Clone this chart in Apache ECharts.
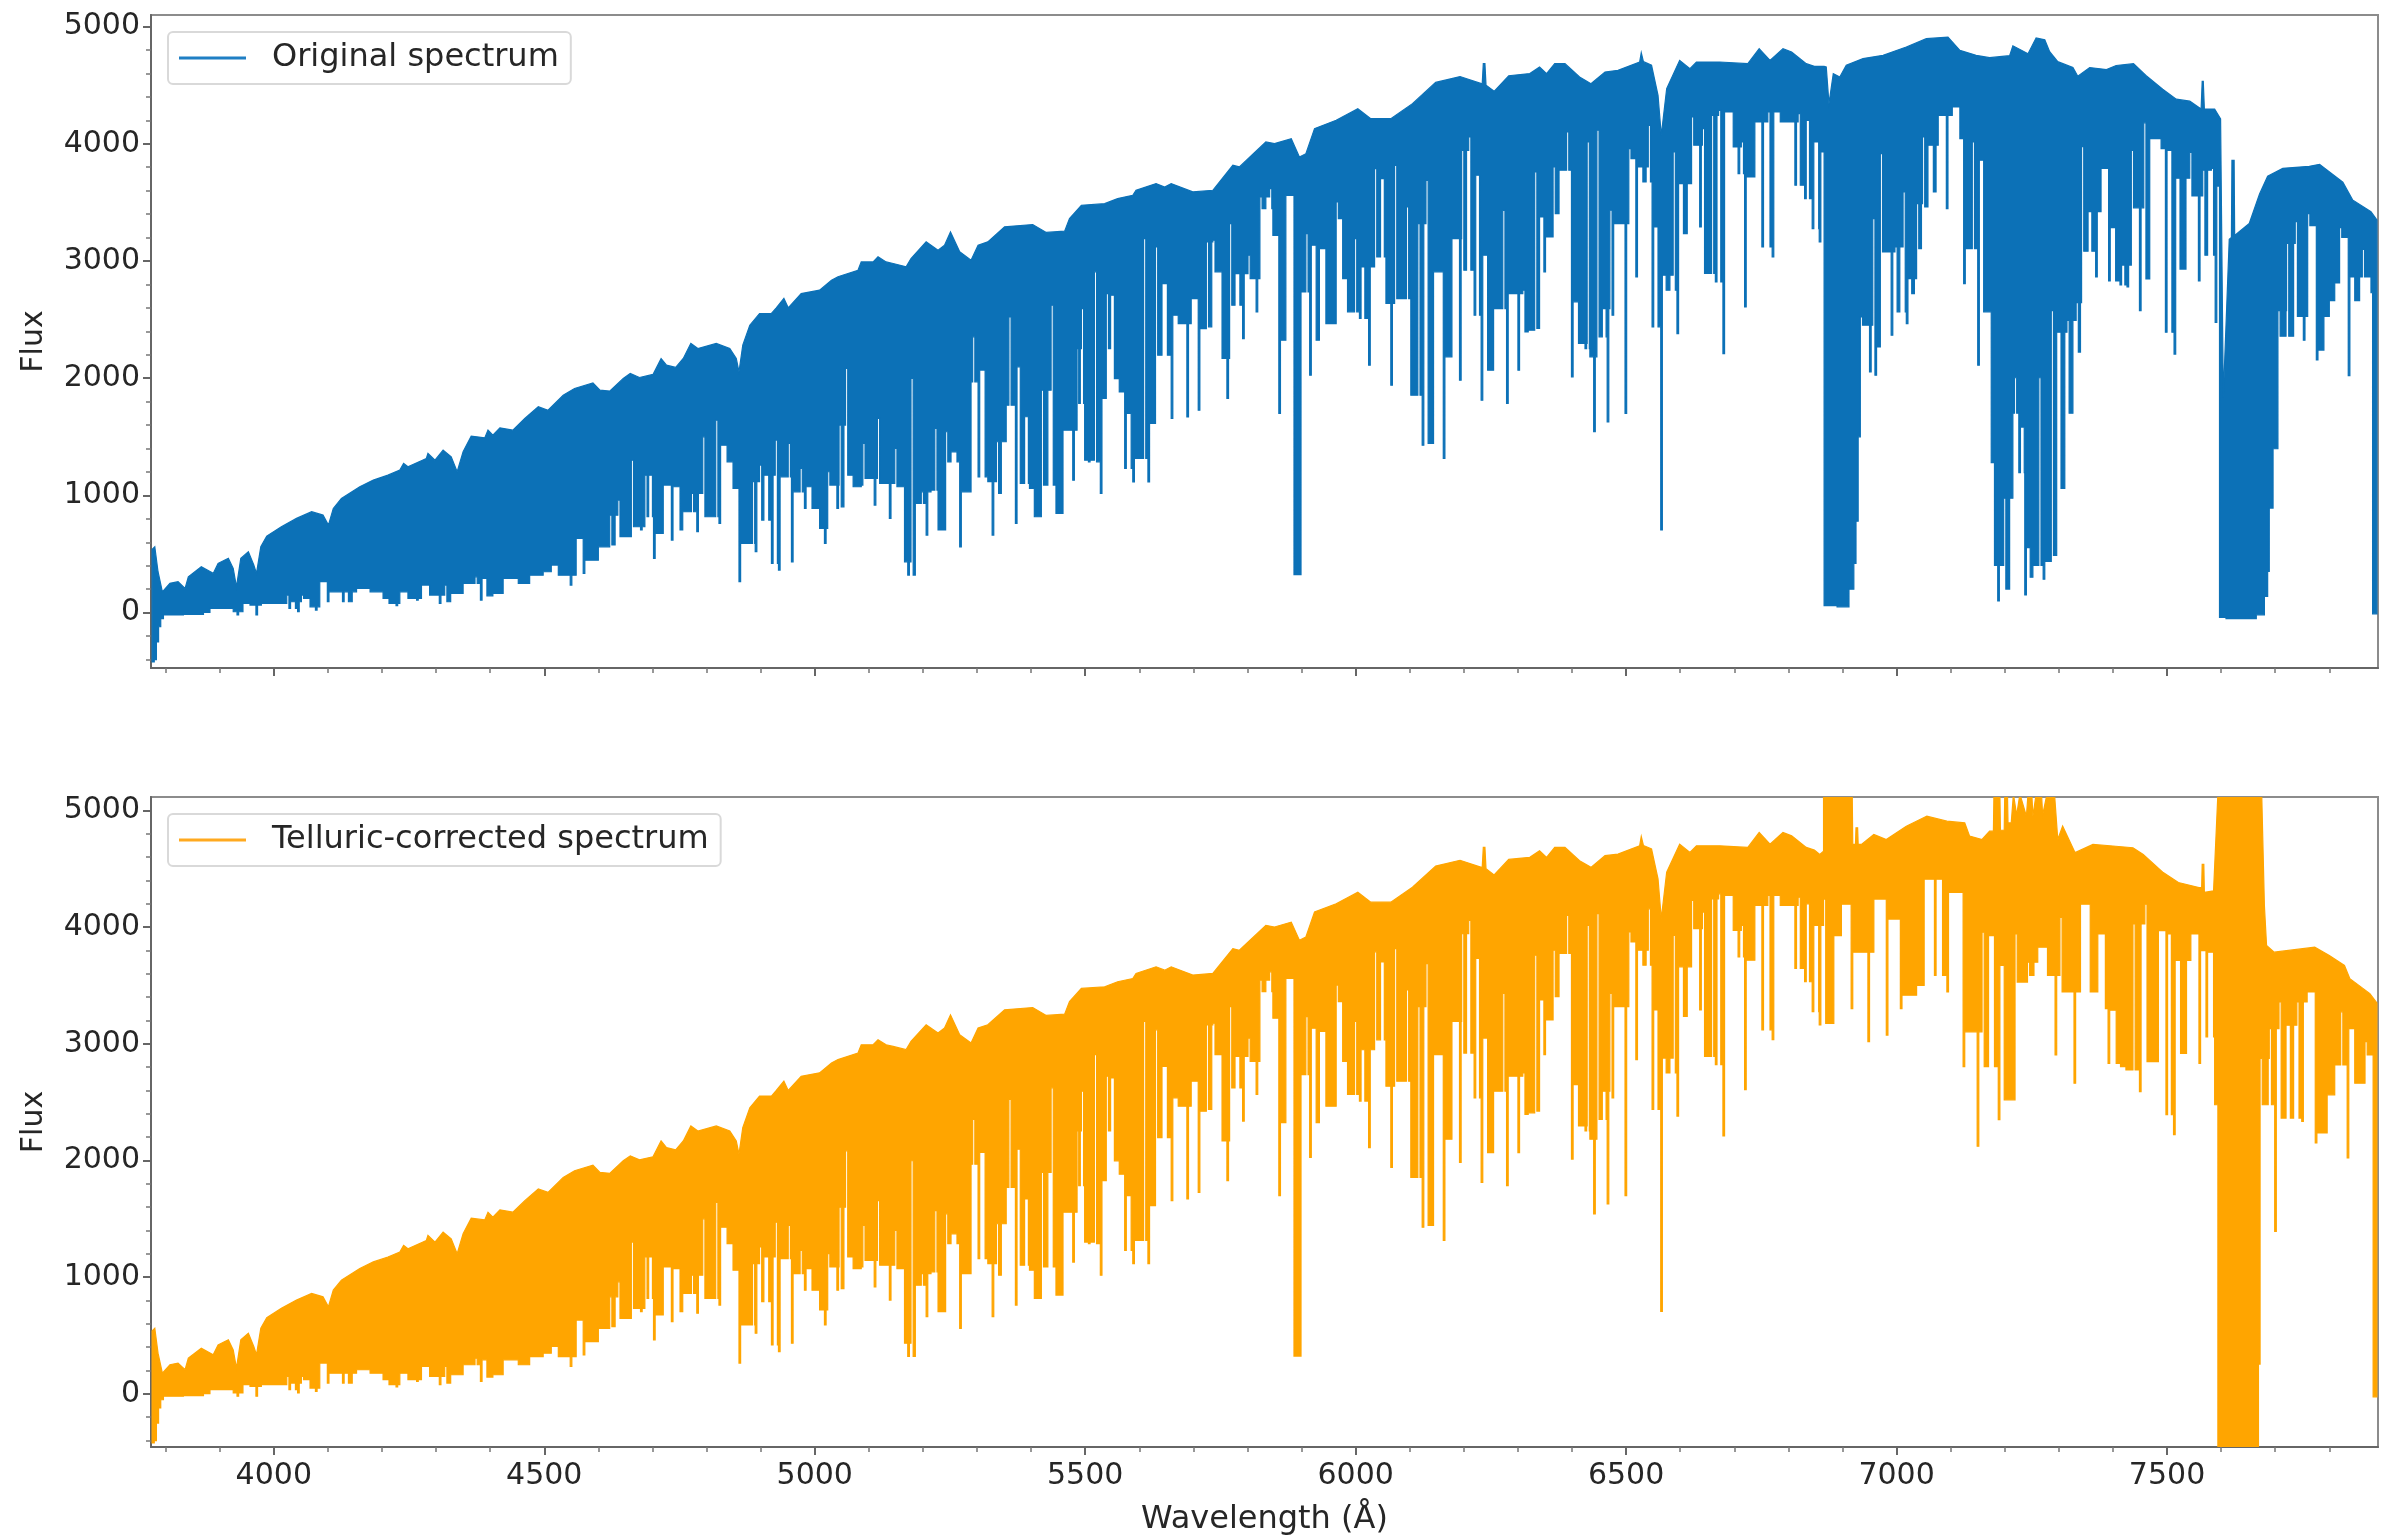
<!DOCTYPE html>
<html>
<head>
<meta charset="utf-8">
<script src="https://cdn.jsdelivr.net/npm/echarts@6/dist/echarts.min.js"></script>
<style>
html,body{margin:0;padding:0;background:#fff}
#chart{width:2388px;height:1537px;filter:blur(0.7px)}
</style>
</head>
<body>
<div id="chart"></div>
<script>
const xMajorTicks=[4000,4500,5000,5500,6000,6500,7000,7500];
const xMinorTicks=[3800,3900,4100,4200,4300,4400,4600,4700,4800,4900,5100,5200,5300,5400,5600,5700,5800,5900,6100,6200,6300,6400,6600,6700,6800,6900,7100,7200,7300,7400,7600,7700,7800];
const yMajorTicks=[0,1000,2000,3000,4000,5000];
const yMinorTicks=[-400,-200,200,400,600,800,1200,1400,1600,1800,2200,2400,2600,2800,3200,3400,3600,3800,4200,4400,4600,4800];

// upper envelope shared by both spectra, [wavelength, flux]
const sharedTop=[[3775,540],[3780,562],[3786,349],[3794,178],[3808,250],[3823,264],[3836,207],[3842,306],[3866,392],[3888,335],[3897,420],[3916,463],[3925,377],[3931,221],[3939,463],[3953,519],[3963,406],[3968,335],[3976,562],[3987,653],[4014,733],[4042,804],[4070,861],[4091,832],[4101,747],[4110,889],[4125,974],[4159,1074],[4184,1131],[4211,1173],[4233,1216],[4240,1273],[4248,1244],[4282,1315],[4285,1358],[4298,1301],[4313,1386],[4328,1329],[4339,1202],[4350,1372],[4365,1506],[4390,1491],[4396,1557],[4405,1514],[4418,1577],[4442,1557],[4464,1656],[4489,1756],[4507,1727],[4535,1855],[4556,1912],[4590,1960],[4603,1898],[4621,1890],[4646,1998],[4659,2040],[4676,2006],[4701,2032],[4716,2168],[4726,2111],[4743,2092],[4757,2168],[4771,2296],[4784,2253],[4818,2296],[4843,2253],[4855,2168],[4860,2055],[4867,2282],[4880,2452],[4898,2552],[4920,2552],[4929,2600],[4943,2680],[4951,2600],[4975,2722],[5009,2751],[5031,2836],[5043,2865],[5080,2921],[5086,2992],[5108,2992],[5117,3035],[5132,2992],[5145,2978],[5169,2950],[5178,3021],[5206,3163],[5228,3092],[5240,3135],[5251,3248],[5268,3078],[5289,3007],[5302,3135],[5320,3163],[5351,3291],[5403,3311],[5428,3243],[5462,3254],[5471,3362],[5493,3475],[5536,3489],[5560,3532],[5588,3560],[5594,3603],[5631,3660],[5647,3631],[5659,3660],[5699,3589],[5736,3603],[5773,3816],[5785,3802],[5834,4015],[5850,4001],[5881,4043],[5896,3887],[5908,3915],[5924,4129],[5964,4200],[6004,4299],[6028,4214],[6065,4214],[6105,4342],[6148,4523],[6193,4573],[6234,4510],[6236,4683],[6239,4683],[6241,4500],[6256,4447],[6283,4580],[6322,4598],[6340,4655],[6353,4598],[6368,4683],[6387,4683],[6414,4569],[6435,4512],[6461,4612],[6485,4626],[6525,4697],[6528,4777],[6532,4700],[6547,4669],[6559,4413],[6565,4072],[6575,4470],[6599,4711],[6618,4640],[6630,4697],[6673,4697],[6725,4683],[6746,4811],[6766,4711],[6790,4811],[6806,4782],[6833,4683],[6848,4660]];

// lower edge of the solid band: each level holds until the next wavelength
const sharedFloor=[[3775,-420],[3779,-400],[3783,-250],[3787,-120],[3791,-50],[3796,-20],[3833,-15],[3870,2],[3882,36],[3925,8],[3932,-20],[3943,79],[3956,65],[3967,-20],[3977,79],[4002,79],[4024,150],[4028,36],[4036,93],[4044,8],[4051,150],[4061,122],[4067,50],[4077,22],[4085,264],[4099,93],[4110,178],[4127,93],[4134,178],[4142,93],[4153,207],[4178,178],[4202,122],[4213,79],[4226,59],[4233,178],[4248,122],[4264,107],[4273,235],[4288,150],[4306,79],[4316,235],[4324,93],[4335,164],[4350,250],[4372,306],[4382,107],[4390,292],[4402,144],[4412,164],[4424,292],[4452,250],[4473,320],[4498,349],[4513,406],[4526,320],[4538,320],[4548,235],[4559,633],[4572,335],[4583,448],[4600,562],[4621,832],[4628,577],[4636,960],[4646,648],[4653,648],[4661,1301],[4667,733],[4678,705],[4686,1173],[4690,818],[4696,1173],[4702,463],[4713,676],[4720,1088],[4735,619],[4747,1074],[4753,705],[4763,861],[4772,1017],[4782,691],[4793,1500],[4803,818],[4817,1642],[4823,761],[4834,1429],[4843,1287],[4849,1060],[4860,264],[4867,591],[4877,591],[4885,1117],[4890,520],[4898,1259],[4903,790],[4911,1173],[4920,420],[4927,1472],[4933,363],[4944,1159],[4951,1444],[4957,434],[4964,1031],[4973,1230],[4981,889],[4991,1074],[4998,889],[5009,719],[5018,591],[5024,1202],[5031,1088],[5041,889],[5045,1600],[5051,903],[5057,2083],[5063,1173],[5071,1074],[5086,1088],[5089,1444],[5098,1145],[5110,918],[5116,1657],[5126,1103],[5138,804],[5148,1401],[5157,1074],[5166,434],[5172,321],[5178,1998],[5183,321],[5191,932],[5197,1031],[5206,662],[5215,1046],[5222,1571],[5228,705],[5242,1543],[5249,1287],[5259,1372],[5268,562],[5277,1031],[5289,1969],[5292,2353],[5302,1159],[5311,2069],[5320,1117],[5328,662],[5336,1458],[5342,1017],[5354,1770],[5359,2523],[5371,761],[5376,2097],[5385,1103],[5391,1671],[5397,1060],[5406,818],[5419,1898],[5428,1088],[5437,2623],[5446,847],[5459,1557],[5477,1130],[5485,2253],[5488,1784],[5493,2594],[5499,1301],[5506,1287],[5517,2907],[5528,1017],[5534,1827],[5539,2722],[5544,2253],[5550,2708],[5554,1997],[5563,1883],[5573,1230],[5581,1699],[5588,1116],[5597,1315],[5608,3191],[5616,1116],[5623,1614],[5630,3120],[5639,2196],[5648,2807],[5659,1656],[5668,2537],[5677,2466],[5688,1670],[5696,2679],[5709,1727],[5717,2423],[5724,3162],[5731,2438],[5736,3177],[5745,2907],[5753,2168],[5762,1827],[5767,3319],[5774,2622],[5782,2892],[5791,2338],[5801,3049],[5807,2850],[5816,2566],[5823,3546],[5831,3447],[5841,3617],[5847,3219],[5858,1699],[5865,2324],[5871,3560],[5886,324],[5899,2736],[5908,3233],[5915,2026],[5923,3134],[5930,2324],[5941,3106],[5948,2466],[5964,3503],[5970,3361],[5976,2850],[5985,2566],[5998,3191],[6007,2509],[6013,2949],[6024,2111],[6035,3788],[6043,3034],[6049,3702],[6056,2637],[6065,1940],[6072,3816],[6081,2679],[6094,3461],[6102,1855],[6115,3319],[6123,1429],[6130,3688],[6141,1443],[6149,2907],[6162,1315],[6170,2182],[6178,3191],[6192,1983],[6196,3944],[6202,2921],[6209,4058],[6219,2537],[6225,3731],[6232,1812],[6240,3049],[6252,2068],[6263,2594],[6272,3432],[6279,1784],[6287,2722],[6300,2068],[6309,2750],[6316,2395],[6325,2409],[6331,3759],[6337,2424],[6344,3376],[6348,2907],[6354,3205],[6365,3802],[6373,3404],[6380,3774],[6390,4100],[6399,2012],[6408,2651],[6414,2296],[6424,2253],[6428,4015],[6433,2182],[6440,1543],[6446,4115],[6453,2353],[6459,2594],[6465,1628],[6470,3433],[6474,2537],[6485,3319],[6498,1699],[6505,3958],[6510,3873],[6518,2864],[6527,3802],[6534,3674],[6541,4157],[6548,2438],[6555,3290],[6564,706],[6570,2878],[6578,2750],[6587,3930],[6594,2381],[6602,3660],[6610,3234],[6621,4228],[6628,3987],[6636,3290],[6641,4129],[6645,2893],[6658,4242],[6665,2821],[6671,4285],[6679,2210],[6685,4271],[6698,3972],[6707,3745],[6713,4015],[6719,2608],[6727,3717],[6738,4186],[6751,3120],[6762,4271],[6770,3035],[6781,4271],[6793,4186],[6812,3646],[6818,4257],[6830,3532],[6835,4200],[6844,3276],[6852,4015],[6857,3163]];

// original spectrum, red end
const originalTopRed=[[6866,4660],[6870,4655],[6875,4342],[6883,4598],[6895,4569],[6907,4669],[6938,4726],[6975,4754],[7018,4825],[7055,4896],[7095,4910],[7117,4797],[7147,4754],[7172,4734],[7209,4751],[7215,4835],[7243,4768],[7258,4902],[7274,4886],[7283,4785],[7298,4700],[7326,4650],[7335,4576],[7357,4650],[7388,4633],[7406,4667],[7438,4683],[7461,4582],[7492,4464],[7517,4380],[7542,4363],[7563,4296],[7565,4532],[7567,4532],[7569,4296],[7588,4296],[7599,4212],[7604,1836],[7615,3184],[7619,3200],[7620,3858],[7624,3858],[7625,3217],[7652,3319],[7671,3571],[7686,3723],[7714,3790],[7763,3807],[7782,3824],[7825,3672],[7843,3521],[7877,3420],[7888,3350]];
const originalFloorRed=[[6864,3930],[6866,60],[6890,50],[6912,200],[6921,420],[6925,780],[6929,1500],[6933,2523],[6945,2452],[6950,2054],[6956,3361],[6960,2026],[6963,2267],[6970,3915],[6978,3077],[6990,2367],[6997,3120],[7003,2566],[7012,3589],[7018,2466],[7024,2850],[7030,2722],[7037,3489],[7043,3105],[7048,4058],[7055,3461],[7064,3987],[7070,3589],[7077,4242],[7092,3447],[7103,4314],[7117,4043],[7124,2807],[7133,3105],[7140,4015],[7150,2111],[7157,3859],[7167,2566],[7175,1280],[7181,404],[7187,100],[7198,976],[7206,201],[7215,1701],[7218,2004],[7226,1195],[7232,1583],[7237,151],[7243,555],[7249,302],[7255,403],[7263,2004],[7271,286],[7282,437],[7286,2577],[7293,488],[7300,2392],[7308,1061],[7315,2493],[7323,1701],[7332,2645],[7337,2223],[7342,3976],[7351,3083],[7357,3420],[7368,2864],[7378,3790],[7392,2830],[7401,3285],[7413,2796],[7418,2965],[7426,2779],[7434,3942],[7443,3453],[7449,2577],[7457,4178],[7465,2847],[7474,4043],[7489,3959],[7497,2392],[7505,3942],[7513,2206],[7520,3706],[7532,2931],[7542,3925],[7549,3554],[7558,2830],[7566,3774],[7572,3049],[7582,3790],[7589,2476],[7594,3639],[7597,-40],[7609,-51],[7665,-18],[7680,139],[7686,353],[7689,892],[7696,1398],[7705,2577],[7717,2358],[7721,3150],[7731,2358],[7737,3335],[7745,2527],[7752,2324],[7760,3403],[7766,3302],[7776,2156],[7783,2240],[7790,2527],[7800,2661],[7810,2813],[7819,3285],[7828,3200],[7835,2021],[7843,2863],[7853,2661],[7861,3098],[7868,2863],[7877,2729],[7880,-10],[7888,-10]];

// telluric-corrected spectrum, red end
const correctedTopRed=[[6858,4623],[6865,4650],[6865,5140],[6918,5140],[6919,4709],[6924,4709],[6925,4851],[6928,4851],[6929,4709],[6935,4709],[6958,4794],[6981,4751],[7018,4865],[7056,4950],[7093,4908],[7126,4893],[7135,4780],[7158,4751],[7172,4822],[7179,4822],[7180,5140],[7191,5140],[7192,4830],[7199,4830],[7200,5140],[7205,5140],[7206,4893],[7212,4893],[7216,5140],[7222,4960],[7228,5140],[7240,4950],[7243,5140],[7250,5140],[7252,4950],[7258,5140],[7268,5140],[7270,4960],[7278,5140],[7292,5140],[7298,4751],[7307,4865],[7330,4638],[7363,4709],[7400,4695],[7437,4680],[7456,4623],[7493,4467],[7521,4382],[7559,4339],[7564,4339],[7565,4538],[7568,4538],[7569,4297],[7586,4311],[7594,5140],[7675,5140],[7680,4183],[7684,3842],[7698,3785],[7773,3828],[7800,3757],[7828,3671],[7838,3558],[7875,3430],[7888,3350]];
const correctedFloorRed=[[6865,4240],[6871,3174],[6884,3927],[6898,4197],[6916,3302],[6925,3785],[6947,3018],[6958,4240],[6981,3075],[6991,4069],[7007,3302],[7019,3416],[7037,3501],[7051,4410],[7070,3586],[7081,4410],[7093,3444],[7102,4297],[7123,2805],[7130,3103],[7149,2122],[7158,3956],[7167,2805],[7177,3927],[7188,2350],[7195,3671],[7205,2520],[7219,3941],[7228,3529],[7242,3700],[7251,3586],[7261,3828],[7279,3586],[7293,2904],[7302,4084],[7312,3444],[7328,2662],[7340,4197],[7358,3444],[7372,3941],[7386,3302],[7391,2833],[7402,3288],[7414,2805],[7424,2776],[7437,4027],[7449,2591],[7459,4197],[7464,2847],[7484,3970],[7498,2392],[7504,3941],[7512,2222],[7521,3714],[7533,2918],[7544,3941],[7559,2833],[7568,3799],[7572,3060],[7582,3785],[7588,2478],[7594,-500],[7663,-500],[7669,256],[7672,2876],[7684,2478],[7689,3131],[7699,1392],[7707,3359],[7717,2364],[7724,3160],[7731,2364],[7740,3359],[7749,2336],[7759,3444],[7774,2151],[7784,2236],[7796,2563],[7810,2819],[7821,3274],[7833,2023],[7843,3131],[7852,2662],[7866,3018],[7878,2904],[7881,-25],[7888,-25]];

const FONT='"DejaVu Sans"';
const TEXT='#262626';
const XMIN=3773,XMAX=7890;
const yLimits=[[-472,5098],[-455,5115]];
const grids=[
 {left:151,right:10,top:15,height:653,show:true,borderColor:'#8c8c8c',borderWidth:2,backgroundColor:'#fff'},
 {left:151,right:10,top:797,height:653,show:true,borderColor:'#8c8c8c',borderWidth:2,backgroundColor:'#fff'}
];
const plain=v=>String(v);
function xAxes(g,labels){
 return [
  {type:'value',gridIndex:g,min:XMIN,max:XMAX,position:'bottom',splitLine:{show:false},
   name:labels?'Wavelength (Å)':'',nameLocation:'middle',nameGap:57,
   nameTextStyle:{fontFamily:FONT,fontSize:32,color:TEXT},
   axisLine:{show:true,onZero:false,lineStyle:{color:'#666',width:2}},
   axisTick:{show:true,length:8,customValues:xMajorTicks,lineStyle:{color:'#666',width:2}},
   axisLabel:{show:labels,customValues:xMajorTicks,formatter:plain,fontFamily:FONT,fontSize:30,color:TEXT,margin:14,hideOverlap:false}},
  {type:'value',gridIndex:g,min:XMIN,max:XMAX,position:'bottom',splitLine:{show:false},
   axisLine:{show:false,onZero:false},axisLabel:{show:false},
   axisTick:{show:true,length:5,customValues:xMinorTicks,lineStyle:{color:'#777',width:1.5}}}
 ];
}
function yAxes(g){
 return [
  {type:'value',gridIndex:g,min:yLimits[g][0],max:yLimits[g][1],position:'left',splitLine:{show:false},
   name:'Flux',nameLocation:'middle',nameGap:102,
   nameTextStyle:{fontFamily:FONT,fontSize:30,color:TEXT},
   axisLine:{show:true,onZero:false,lineStyle:{color:'#666',width:2}},
   axisTick:{show:true,length:8,customValues:yMajorTicks,lineStyle:{color:'#666',width:2}},
   axisLabel:{customValues:yMajorTicks,formatter:plain,fontFamily:FONT,fontSize:30,color:TEXT,margin:11}},
  {type:'value',gridIndex:g,min:yLimits[g][0],max:yLimits[g][1],position:'left',splitLine:{show:false},
   axisLine:{show:false,onZero:false},axisLabel:{show:false},
   axisTick:{show:true,length:5,customValues:yMinorTicks,lineStyle:{color:'#777',width:1.5}}}
 ];
}
// Outline of the comb: absorption fingers and gaps are drawn narrow, the rest of
// each step keeps the level of the nearest neighbouring step.
const GAP_WIDTH=4,FINGER_WIDTH=3,MAX_STEP=12.5;
function combOutline(floor){
 const out=[];
 floor.forEach((p,i)=>{
  const w=p[0],v=p[1];
  out.push([w,v]);
  if(i+1>=floor.length) return;
  const nw=floor[i+1][0],seg=nw-w;
  const prev=i>0?floor[i-1][1]:v,next=floor[i+1][1];
  if(seg<=MAX_STEP&&v>prev&&v>next&&seg>GAP_WIDTH){
   const rest=Math.max(prev,next);
   out.push([w+GAP_WIDTH,v],[w+GAP_WIDTH,rest],[nw,rest]);
  }else if(seg<=MAX_STEP&&v<prev&&v<next&&seg>FINGER_WIDTH){
   const rest=Math.min(prev,next);
   out.push([w+FINGER_WIDTH,v],[w+FINGER_WIDTH,rest],[nw,rest]);
  }else{
   out.push([nw,v]);
  }
 });
 return out;
}
function spectrum(g,name,color,top,floor){
 const outline=top.concat(combOutline(floor).reverse());
 return {type:'custom',name:name,xAxisIndex:g*2,yAxisIndex:g*2,clip:true,silent:true,animation:false,
  itemStyle:{color:color},data:outline,encode:{x:0,y:1},
  renderItem:function(params,api){
   if(params.dataIndex!==0) return null;
   return {type:'polygon',shape:{points:outline.map(p=>api.coord(p))},style:{fill:color,stroke:color,lineWidth:1.2,lineJoin:'miter'}};
  }};
}
function legend(name,top,lineColor){
 return {show:true,left:168,top:top,data:[{name:name,icon:'path://M0 6.5H67V9.5H0Z'}],orient:'horizontal',
  itemWidth:67,itemHeight:16,padding:[10,12,10,11],backgroundColor:'#fff',borderColor:'#d9d9d9',borderWidth:2,borderRadius:5,
  selectedMode:false,itemStyle:{color:lineColor},
  textStyle:{fontFamily:FONT,fontSize:32,color:TEXT,padding:[0,0,0,21]}};
}
const chart=echarts.init(document.getElementById('chart'),null,{renderer:'canvas'});
chart.setOption({
 animation:false,
 backgroundColor:'#fff',
 grid:grids,
 xAxis:[...xAxes(0,false),...xAxes(1,true)],
 yAxis:[...yAxes(0),...yAxes(1)],
 legend:[legend('Original spectrum',32,'#1f7fc4'),legend('Telluric-corrected spectrum',814,'#FFA91F')],
 series:[
  spectrum(0,'Original spectrum','#0C71B7',sharedTop.concat(originalTopRed),sharedFloor.concat(originalFloorRed)),
  spectrum(1,'Telluric-corrected spectrum','#FFA500',sharedTop.concat(correctedTopRed),sharedFloor.concat(correctedFloorRed))
 ]
});
</script>
</body>
</html>
